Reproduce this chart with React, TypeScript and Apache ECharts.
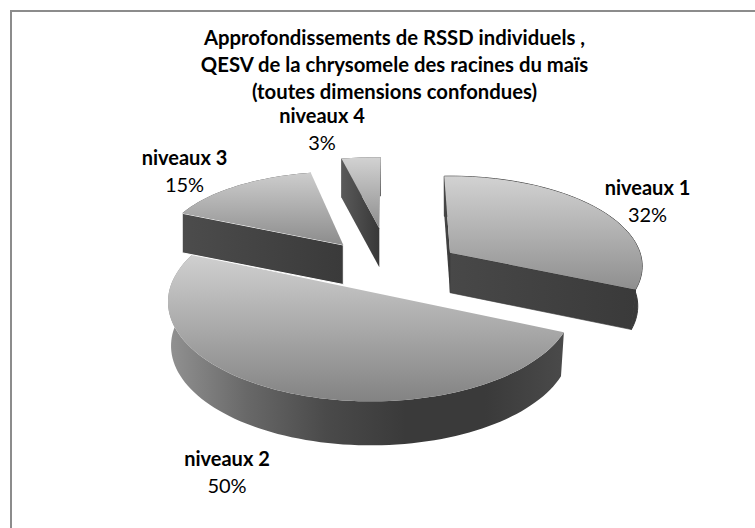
import React, { useEffect, useRef } from "react";
import * as echarts from "echarts";

const titleLines = [
  "Approfondissements de RSSD individuels ,",
  "QESV de la chrysomele des racines du maïs",
  "(toutes dimensions confondues)",
];
const categories = ["niveaux 1", "niveaux 2", "niveaux 3", "niveaux 4"];
const shares = [32, 50, 15, 3];

// Layout of each exploded slice: where it sits and how the perspective treats it.
const sliceCentres = [[450, 252.7], [370.8, 291.9], [343.3, 245], [379.3, 228.3]];
const sliceRadii = [[190, 88], [201.8, 98.5], [178.4, 73.6], [210, 71]];
const slicePerspective = [0.15, 0.1, 0, 0];
const sliceStartDeg = [358, 113.2, 295.5, 349.6];
const sliceDepth = [40, 44, 39.5, 39];
const sliceBottomScale = [0.977, 0.985, 1, 1];
const showStartFace = [true, false, true, true];
const showEndFace = [true, false, false, false];
const labelAnchors = [[647.5, 187], [227, 458], [184.5, 157], [322, 115]];
const drawOrder = [3, 0, 1, 2];

const FONT = "Lato";

function sliceShape(i: number) {
  const [cx, cy] = sliceCentres[i];
  const [a, b] = sliceRadii[i];
  const q = slicePerspective[i];
  const span = (shares[i] / 100) * 360;
  const start = sliceStartDeg[i];
  const project = (deg: number, bottom: boolean) => {
    const t = (deg * Math.PI) / 180;
    const s = 1 / (1 + q * Math.cos(t));
    const k = bottom ? sliceBottomScale[i] : 1;
    return [
      cx + a * Math.sin(t) * s * k,
      cy - b * Math.cos(t) * s + (bottom ? sliceDepth[i] : 0),
    ];
  };
  const steps = Math.max(8, Math.ceil(span / 2));
  const top: number[][] = [];
  const low: number[][] = [];
  for (let n = 0; n <= steps; n++) {
    const d = start + (span * n) / steps;
    top.push(project(d, false));
    low.push(project(d, true));
  }
  const apex = [cx, cy];
  const apexLow = [cx, cy + sliceDepth[i]];
  return { top, low, apex, apexLow };
}

const vGrad = (stops: string[]) =>
  new echarts.graphic.LinearGradient(
    0, 0, 0, 1,
    stops.map((color, n) => ({ offset: n / (stops.length - 1), color })),
  );
const hGrad = (stops: string[]) =>
  new echarts.graphic.LinearGradient(
    0, 0, 1, 0,
    stops.map((color, n) => ({ offset: n / (stops.length - 1), color })),
  );

const topStops = [
  ["#d2d2d2", "#8f8f8f"],
  ["#d0d0d0", "#838383"],
  ["#cdcdcd", "#8c8c8c"],
  ["#d2d2d2", "#8e8e8e"],
];
const rimStops = [
  ["#3c3c3c", "#3a3a3a"],
  ["#929292", "#686868", "#4a4a4a", "#3a3a3a", "#3a3a3a", "#4a4a4a"],
  ["#4c4c4c", "#3a3a3a"],
  ["#4c4c4c", "#3a3a3a"],
];
const faceStops = [
  ["#484848", "#3a3a3a"],
  ["#484848", "#3a3a3a"],
  ["#4c4c4c", "#3a3a3a"],
  ["#5a5a5a", "#383838"],
];

function renderSlice(_params: any, api: any) {
  const i = api.value(0) as number;
  const { top, low, apex, apexLow } = sliceShape(i);
  const last = top.length - 1;
  const children: any[] = [];
  children.push({
    type: "polygon",
    shape: { points: [...top, ...[...low].reverse()] },
    style: { fill: hGrad(rimStops[i]), stroke: i === 0 ? "#3a3a3a" : undefined, lineWidth: i === 0 ? 1 : 0 },
  });
  const face = (a: number[], b: number[], c: number[], d: number[], stroke?: string) => ({
    type: "polygon",
    shape: { points: [a, b, c, d] },
    style: {
      fill: hGrad(faceStops[i]),
      stroke: i === 2 ? "#ffffff" : stroke,
      lineWidth: i === 2 ? 1 : stroke ? 0.6 : 0,
    },
  });
  if (showStartFace[i]) children.push(face(top[0], apex, apexLow, low[0]));
  if (showEndFace[i]) children.push(face(apex, top[last], low[last], apexLow, "#3a3a3a"));
  children.push({
    type: "polygon",
    shape: { points: [apex, ...top] },
    style: { fill: vGrad(topStops[i]) },
  });
  return { type: "group", children };
}

export default function App() {
  const ref = useRef<HTMLDivElement>(null);
  useEffect(() => {
    const chart = echarts.init(ref.current!, undefined, { renderer: "svg" });
    const labelTexts = categories.flatMap((name, i) => [
      {
        type: "text",
        x: labelAnchors[i][0],
        y: labelAnchors[i][1],
        style: {
          text: name,
          font: `bold 20px ${FONT}`,
          fill: "#000000",
          align: "center",
          verticalAlign: "middle",
        },
      },
      {
        type: "text",
        x: labelAnchors[i][0],
        y: labelAnchors[i][1] + 26.5,
        style: {
          text: `${shares[i]}%`,
          font: `20px ${FONT}`,
          fill: "#000000",
          align: "center",
          verticalAlign: "middle",
        },
      },
    ]);
    chart.setOption({
      animation: false,
      backgroundColor: "#ffffff",
      title: {
        text: titleLines.join("\n"),
        left: 389.5,
        top: 18,
        textAlign: "center",
        textStyle: {
          fontFamily: FONT,
          fontWeight: "bold",
          fontSize: 20.3,
          lineHeight: 27,
          color: "#000000",
        },
      },
      graphic: [
        {
          type: "polyline",
          silent: true,
          shape: { points: [[11, 528], [11, 11], [755, 11]] },
          style: { fill: "none", stroke: "#8c8c8c", lineWidth: 2 },
          z: -1,
        },
        ...labelTexts,
      ],
      series: [
        {
          type: "custom",
          coordinateSystem: "none",
          renderItem: renderSlice,
          data: drawOrder.map((i) => [i, shares[i]]),
          silent: true,
        },
      ],
    });
    return () => chart.dispose();
  }, []);
  return (
    <div
      ref={ref}
      style={{ position: "absolute", left: 0, top: 0, width: 755, height: 528 }}
    />
  );
}
